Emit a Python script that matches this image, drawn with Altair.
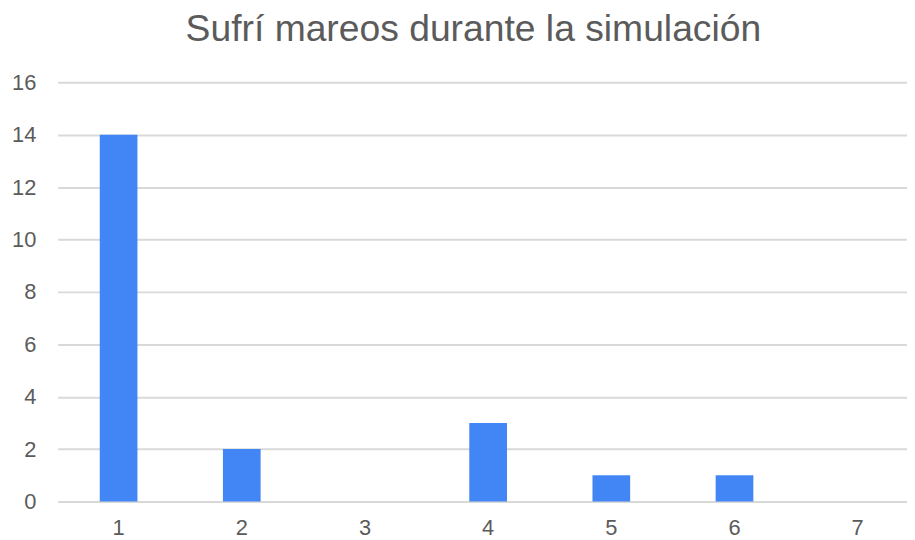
import altair as alt
import pandas as pd

categories = ["1", "2", "3", "4", "5", "6", "7"]
counts = [14, 2, 0, 3, 1, 1, 0]
y_ticks = [0, 2, 4, 6, 8, 10, 12, 14, 16]

df = pd.DataFrame({"cat": categories, "count": counts})

FONT = "Liberation Sans"
TEXT = "#5b5b5b"

chart = alt.Chart(df).mark_bar(color="#4285F4").encode(
    x=alt.X("cat:O", sort=categories,
            scale=alt.Scale(domain=categories, paddingInner=0.694, paddingOuter=0.2945, align=0.58),
            axis=alt.Axis(title=None, labelAngle=0, ticks=False, domain=False, grid=False,
                          labelFont=FONT, labelFontSize=22, labelColor=TEXT, labelPadding=16)),
    y=alt.Y("count:Q", scale=alt.Scale(domain=[0, 16], nice=False),
            axis=alt.Axis(title=None, values=y_ticks, ticks=False, domain=False,
                          gridColor="#d9d9d9", gridWidth=2,
                          labelFont=FONT, labelFontSize=22, labelColor=TEXT, labelPadding=22)),
).properties(
    width=855, height=422,
    autosize=alt.AutoSizeParams(type="none"),
    padding={"left": 50, "top": 73, "right": 0, "bottom": 37},
    title=alt.TitleParams("Sufrí mareos durante la simulación", font=FONT, fontSize=37.5,
                          fontWeight="normal", color=TEXT, anchor="middle", dx=-9,
                          offset=23),
).configure_view(stroke=None)

chart.save("out.html", embed_options={"renderer": "svg", "actions": False})
